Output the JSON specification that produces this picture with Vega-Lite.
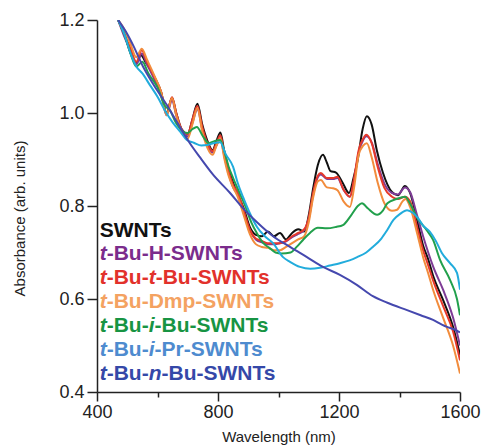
{
  "$schema": "https://vega.github.io/schema/vega-lite/v6.json",
  "width": 363,
  "height": 372,
  "autosize": {"type": "none"},
  "padding": {"left": 97, "top": 20, "right": 27, "bottom": 53},
  "background": "white",
  "config": {"view": {"stroke": null}, "font": "Liberation Sans"},
  "datasets": {
    "spectra": [
      {"s":"SWNTs","w":470,"a":1.2},{"s":"SWNTs","w":490,"a":1.17},{"s":"SWNTs","w":510,"a":1.13},{"s":"SWNTs","w":530,"a":1.107},{"s":"SWNTs","w":545,"a":1.125},{"s":"SWNTs","w":560,"a":1.11},{"s":"SWNTs","w":590,"a":1.077},{"s":"SWNTs","w":612,"a":1.045},{"s":"SWNTs","w":630,"a":1.0},{"s":"SWNTs","w":648,"a":1.033},{"s":"SWNTs","w":662,"a":1.0},{"s":"SWNTs","w":680,"a":0.965},{"s":"SWNTs","w":700,"a":0.955},{"s":"SWNTs","w":715,"a":0.985},{"s":"SWNTs","w":732,"a":1.02},{"s":"SWNTs","w":748,"a":0.975},{"s":"SWNTs","w":765,"a":0.94},{"s":"SWNTs","w":782,"a":0.92},{"s":"SWNTs","w":795,"a":0.94},{"s":"SWNTs","w":808,"a":0.958},{"s":"SWNTs","w":820,"a":0.92},{"s":"SWNTs","w":835,"a":0.88},{"s":"SWNTs","w":850,"a":0.85},{"s":"SWNTs","w":865,"a":0.825},{"s":"SWNTs","w":885,"a":0.795},{"s":"SWNTs","w":905,"a":0.755},{"s":"SWNTs","w":925,"a":0.738},{"s":"SWNTs","w":945,"a":0.735},{"s":"SWNTs","w":965,"a":0.745},{"s":"SWNTs","w":985,"a":0.735},{"s":"SWNTs","w":1005,"a":0.742},{"s":"SWNTs","w":1025,"a":0.728},{"s":"SWNTs","w":1045,"a":0.742},{"s":"SWNTs","w":1065,"a":0.75},{"s":"SWNTs","w":1085,"a":0.745},{"s":"SWNTs","w":1100,"a":0.78},{"s":"SWNTs","w":1115,"a":0.84},{"s":"SWNTs","w":1130,"a":0.888},{"s":"SWNTs","w":1147,"a":0.91},{"s":"SWNTs","w":1160,"a":0.893},{"s":"SWNTs","w":1172,"a":0.875},{"s":"SWNTs","w":1190,"a":0.872},{"s":"SWNTs","w":1212,"a":0.85},{"s":"SWNTs","w":1233,"a":0.828},{"s":"SWNTs","w":1248,"a":0.86},{"s":"SWNTs","w":1262,"a":0.9},{"s":"SWNTs","w":1278,"a":0.965},{"s":"SWNTs","w":1292,"a":0.993},{"s":"SWNTs","w":1308,"a":0.975},{"s":"SWNTs","w":1325,"a":0.92},{"s":"SWNTs","w":1345,"a":0.872},{"s":"SWNTs","w":1375,"a":0.83},{"s":"SWNTs","w":1395,"a":0.823},{"s":"SWNTs","w":1418,"a":0.843},{"s":"SWNTs","w":1435,"a":0.828},{"s":"SWNTs","w":1458,"a":0.77},{"s":"SWNTs","w":1478,"a":0.715},{"s":"SWNTs","w":1495,"a":0.685},{"s":"SWNTs","w":1511,"a":0.65},{"s":"SWNTs","w":1544,"a":0.598},{"s":"SWNTs","w":1577,"a":0.54},{"s":"SWNTs","w":1600,"a":0.48},

      {"s":"t-Bu-H-SWNTs","w":470,"a":1.2},{"s":"t-Bu-H-SWNTs","w":490,"a":1.165},{"s":"t-Bu-H-SWNTs","w":510,"a":1.135},{"s":"t-Bu-H-SWNTs","w":530,"a":1.105},{"s":"t-Bu-H-SWNTs","w":548,"a":1.128},{"s":"t-Bu-H-SWNTs","w":565,"a":1.105},{"s":"t-Bu-H-SWNTs","w":590,"a":1.072},{"s":"t-Bu-H-SWNTs","w":612,"a":1.04},{"s":"t-Bu-H-SWNTs","w":630,"a":0.995},{"s":"t-Bu-H-SWNTs","w":648,"a":1.027},{"s":"t-Bu-H-SWNTs","w":662,"a":0.995},{"s":"t-Bu-H-SWNTs","w":680,"a":0.96},{"s":"t-Bu-H-SWNTs","w":700,"a":0.95},{"s":"t-Bu-H-SWNTs","w":715,"a":0.978},{"s":"t-Bu-H-SWNTs","w":732,"a":1.008},{"s":"t-Bu-H-SWNTs","w":748,"a":0.965},{"s":"t-Bu-H-SWNTs","w":765,"a":0.93},{"s":"t-Bu-H-SWNTs","w":782,"a":0.915},{"s":"t-Bu-H-SWNTs","w":795,"a":0.93},{"s":"t-Bu-H-SWNTs","w":808,"a":0.945},{"s":"t-Bu-H-SWNTs","w":820,"a":0.91},{"s":"t-Bu-H-SWNTs","w":835,"a":0.87},{"s":"t-Bu-H-SWNTs","w":850,"a":0.84},{"s":"t-Bu-H-SWNTs","w":865,"a":0.825},{"s":"t-Bu-H-SWNTs","w":885,"a":0.785},{"s":"t-Bu-H-SWNTs","w":905,"a":0.748},{"s":"t-Bu-H-SWNTs","w":925,"a":0.728},{"s":"t-Bu-H-SWNTs","w":945,"a":0.722},{"s":"t-Bu-H-SWNTs","w":965,"a":0.718},{"s":"t-Bu-H-SWNTs","w":985,"a":0.718},{"s":"t-Bu-H-SWNTs","w":1005,"a":0.72},{"s":"t-Bu-H-SWNTs","w":1025,"a":0.724},{"s":"t-Bu-H-SWNTs","w":1045,"a":0.733},{"s":"t-Bu-H-SWNTs","w":1065,"a":0.74},{"s":"t-Bu-H-SWNTs","w":1085,"a":0.748},{"s":"t-Bu-H-SWNTs","w":1100,"a":0.772},{"s":"t-Bu-H-SWNTs","w":1115,"a":0.825},{"s":"t-Bu-H-SWNTs","w":1130,"a":0.862},{"s":"t-Bu-H-SWNTs","w":1140,"a":0.868},{"s":"t-Bu-H-SWNTs","w":1160,"a":0.858},{"s":"t-Bu-H-SWNTs","w":1180,"a":0.858},{"s":"t-Bu-H-SWNTs","w":1195,"a":0.86},{"s":"t-Bu-H-SWNTs","w":1215,"a":0.835},{"s":"t-Bu-H-SWNTs","w":1236,"a":0.82},{"s":"t-Bu-H-SWNTs","w":1250,"a":0.855},{"s":"t-Bu-H-SWNTs","w":1265,"a":0.915},{"s":"t-Bu-H-SWNTs","w":1280,"a":0.942},{"s":"t-Bu-H-SWNTs","w":1290,"a":0.95},{"s":"t-Bu-H-SWNTs","w":1308,"a":0.937},{"s":"t-Bu-H-SWNTs","w":1328,"a":0.89},{"s":"t-Bu-H-SWNTs","w":1350,"a":0.848},{"s":"t-Bu-H-SWNTs","w":1375,"a":0.828},{"s":"t-Bu-H-SWNTs","w":1395,"a":0.825},{"s":"t-Bu-H-SWNTs","w":1418,"a":0.84},{"s":"t-Bu-H-SWNTs","w":1435,"a":0.83},{"s":"t-Bu-H-SWNTs","w":1458,"a":0.78},{"s":"t-Bu-H-SWNTs","w":1478,"a":0.735},{"s":"t-Bu-H-SWNTs","w":1495,"a":0.7},{"s":"t-Bu-H-SWNTs","w":1511,"a":0.67},{"s":"t-Bu-H-SWNTs","w":1544,"a":0.62},{"s":"t-Bu-H-SWNTs","w":1577,"a":0.56},{"s":"t-Bu-H-SWNTs","w":1600,"a":0.5},

      {"s":"t-Bu-t-Bu-SWNTs","w":470,"a":1.2},{"s":"t-Bu-t-Bu-SWNTs","w":490,"a":1.17},{"s":"t-Bu-t-Bu-SWNTs","w":510,"a":1.14},{"s":"t-Bu-t-Bu-SWNTs","w":530,"a":1.11},{"s":"t-Bu-t-Bu-SWNTs","w":548,"a":1.135},{"s":"t-Bu-t-Bu-SWNTs","w":565,"a":1.11},{"s":"t-Bu-t-Bu-SWNTs","w":590,"a":1.077},{"s":"t-Bu-t-Bu-SWNTs","w":612,"a":1.045},{"s":"t-Bu-t-Bu-SWNTs","w":630,"a":0.998},{"s":"t-Bu-t-Bu-SWNTs","w":648,"a":1.034},{"s":"t-Bu-t-Bu-SWNTs","w":662,"a":1.0},{"s":"t-Bu-t-Bu-SWNTs","w":680,"a":0.965},{"s":"t-Bu-t-Bu-SWNTs","w":700,"a":0.955},{"s":"t-Bu-t-Bu-SWNTs","w":715,"a":0.985},{"s":"t-Bu-t-Bu-SWNTs","w":732,"a":1.015},{"s":"t-Bu-t-Bu-SWNTs","w":748,"a":0.97},{"s":"t-Bu-t-Bu-SWNTs","w":765,"a":0.935},{"s":"t-Bu-t-Bu-SWNTs","w":782,"a":0.918},{"s":"t-Bu-t-Bu-SWNTs","w":795,"a":0.935},{"s":"t-Bu-t-Bu-SWNTs","w":808,"a":0.952},{"s":"t-Bu-t-Bu-SWNTs","w":820,"a":0.915},{"s":"t-Bu-t-Bu-SWNTs","w":835,"a":0.875},{"s":"t-Bu-t-Bu-SWNTs","w":850,"a":0.845},{"s":"t-Bu-t-Bu-SWNTs","w":865,"a":0.83},{"s":"t-Bu-t-Bu-SWNTs","w":885,"a":0.79},{"s":"t-Bu-t-Bu-SWNTs","w":905,"a":0.75},{"s":"t-Bu-t-Bu-SWNTs","w":925,"a":0.73},{"s":"t-Bu-t-Bu-SWNTs","w":945,"a":0.725},{"s":"t-Bu-t-Bu-SWNTs","w":965,"a":0.72},{"s":"t-Bu-t-Bu-SWNTs","w":985,"a":0.72},{"s":"t-Bu-t-Bu-SWNTs","w":1005,"a":0.72},{"s":"t-Bu-t-Bu-SWNTs","w":1025,"a":0.725},{"s":"t-Bu-t-Bu-SWNTs","w":1045,"a":0.735},{"s":"t-Bu-t-Bu-SWNTs","w":1065,"a":0.742},{"s":"t-Bu-t-Bu-SWNTs","w":1085,"a":0.75},{"s":"t-Bu-t-Bu-SWNTs","w":1100,"a":0.775},{"s":"t-Bu-t-Bu-SWNTs","w":1115,"a":0.83},{"s":"t-Bu-t-Bu-SWNTs","w":1130,"a":0.865},{"s":"t-Bu-t-Bu-SWNTs","w":1140,"a":0.871},{"s":"t-Bu-t-Bu-SWNTs","w":1160,"a":0.86},{"s":"t-Bu-t-Bu-SWNTs","w":1180,"a":0.86},{"s":"t-Bu-t-Bu-SWNTs","w":1195,"a":0.863},{"s":"t-Bu-t-Bu-SWNTs","w":1215,"a":0.835},{"s":"t-Bu-t-Bu-SWNTs","w":1236,"a":0.82},{"s":"t-Bu-t-Bu-SWNTs","w":1250,"a":0.86},{"s":"t-Bu-t-Bu-SWNTs","w":1265,"a":0.92},{"s":"t-Bu-t-Bu-SWNTs","w":1280,"a":0.945},{"s":"t-Bu-t-Bu-SWNTs","w":1290,"a":0.953},{"s":"t-Bu-t-Bu-SWNTs","w":1308,"a":0.935},{"s":"t-Bu-t-Bu-SWNTs","w":1328,"a":0.884},{"s":"t-Bu-t-Bu-SWNTs","w":1350,"a":0.839},{"s":"t-Bu-t-Bu-SWNTs","w":1375,"a":0.82},{"s":"t-Bu-t-Bu-SWNTs","w":1395,"a":0.815},{"s":"t-Bu-t-Bu-SWNTs","w":1418,"a":0.82},{"s":"t-Bu-t-Bu-SWNTs","w":1435,"a":0.81},{"s":"t-Bu-t-Bu-SWNTs","w":1458,"a":0.755},{"s":"t-Bu-t-Bu-SWNTs","w":1478,"a":0.705},{"s":"t-Bu-t-Bu-SWNTs","w":1495,"a":0.672},{"s":"t-Bu-t-Bu-SWNTs","w":1511,"a":0.64},{"s":"t-Bu-t-Bu-SWNTs","w":1544,"a":0.585},{"s":"t-Bu-t-Bu-SWNTs","w":1577,"a":0.53},{"s":"t-Bu-t-Bu-SWNTs","w":1600,"a":0.468},

      {"s":"t-Bu-Dmp-SWNTs","w":470,"a":1.2},{"s":"t-Bu-Dmp-SWNTs","w":490,"a":1.18},{"s":"t-Bu-Dmp-SWNTs","w":510,"a":1.15},{"s":"t-Bu-Dmp-SWNTs","w":530,"a":1.12},{"s":"t-Bu-Dmp-SWNTs","w":548,"a":1.138},{"s":"t-Bu-Dmp-SWNTs","w":565,"a":1.115},{"s":"t-Bu-Dmp-SWNTs","w":590,"a":1.08},{"s":"t-Bu-Dmp-SWNTs","w":612,"a":1.045},{"s":"t-Bu-Dmp-SWNTs","w":630,"a":0.995},{"s":"t-Bu-Dmp-SWNTs","w":648,"a":1.032},{"s":"t-Bu-Dmp-SWNTs","w":662,"a":0.995},{"s":"t-Bu-Dmp-SWNTs","w":680,"a":0.96},{"s":"t-Bu-Dmp-SWNTs","w":700,"a":0.945},{"s":"t-Bu-Dmp-SWNTs","w":715,"a":0.975},{"s":"t-Bu-Dmp-SWNTs","w":732,"a":1.01},{"s":"t-Bu-Dmp-SWNTs","w":748,"a":0.96},{"s":"t-Bu-Dmp-SWNTs","w":765,"a":0.925},{"s":"t-Bu-Dmp-SWNTs","w":782,"a":0.91},{"s":"t-Bu-Dmp-SWNTs","w":795,"a":0.93},{"s":"t-Bu-Dmp-SWNTs","w":808,"a":0.945},{"s":"t-Bu-Dmp-SWNTs","w":820,"a":0.905},{"s":"t-Bu-Dmp-SWNTs","w":835,"a":0.865},{"s":"t-Bu-Dmp-SWNTs","w":850,"a":0.84},{"s":"t-Bu-Dmp-SWNTs","w":865,"a":0.82},{"s":"t-Bu-Dmp-SWNTs","w":885,"a":0.78},{"s":"t-Bu-Dmp-SWNTs","w":905,"a":0.74},{"s":"t-Bu-Dmp-SWNTs","w":925,"a":0.718},{"s":"t-Bu-Dmp-SWNTs","w":945,"a":0.712},{"s":"t-Bu-Dmp-SWNTs","w":965,"a":0.71},{"s":"t-Bu-Dmp-SWNTs","w":985,"a":0.705},{"s":"t-Bu-Dmp-SWNTs","w":1005,"a":0.705},{"s":"t-Bu-Dmp-SWNTs","w":1025,"a":0.712},{"s":"t-Bu-Dmp-SWNTs","w":1045,"a":0.72},{"s":"t-Bu-Dmp-SWNTs","w":1065,"a":0.728},{"s":"t-Bu-Dmp-SWNTs","w":1085,"a":0.735},{"s":"t-Bu-Dmp-SWNTs","w":1100,"a":0.765},{"s":"t-Bu-Dmp-SWNTs","w":1115,"a":0.82},{"s":"t-Bu-Dmp-SWNTs","w":1130,"a":0.853},{"s":"t-Bu-Dmp-SWNTs","w":1140,"a":0.856},{"s":"t-Bu-Dmp-SWNTs","w":1160,"a":0.84},{"s":"t-Bu-Dmp-SWNTs","w":1180,"a":0.838},{"s":"t-Bu-Dmp-SWNTs","w":1195,"a":0.834},{"s":"t-Bu-Dmp-SWNTs","w":1215,"a":0.81},{"s":"t-Bu-Dmp-SWNTs","w":1236,"a":0.798},{"s":"t-Bu-Dmp-SWNTs","w":1250,"a":0.84},{"s":"t-Bu-Dmp-SWNTs","w":1265,"a":0.91},{"s":"t-Bu-Dmp-SWNTs","w":1280,"a":0.93},{"s":"t-Bu-Dmp-SWNTs","w":1292,"a":0.935},{"s":"t-Bu-Dmp-SWNTs","w":1308,"a":0.905},{"s":"t-Bu-Dmp-SWNTs","w":1328,"a":0.85},{"s":"t-Bu-Dmp-SWNTs","w":1350,"a":0.806},{"s":"t-Bu-Dmp-SWNTs","w":1375,"a":0.79},{"s":"t-Bu-Dmp-SWNTs","w":1392,"a":0.792},{"s":"t-Bu-Dmp-SWNTs","w":1410,"a":0.81},{"s":"t-Bu-Dmp-SWNTs","w":1420,"a":0.815},{"s":"t-Bu-Dmp-SWNTs","w":1435,"a":0.798},{"s":"t-Bu-Dmp-SWNTs","w":1458,"a":0.742},{"s":"t-Bu-Dmp-SWNTs","w":1478,"a":0.69},{"s":"t-Bu-Dmp-SWNTs","w":1495,"a":0.655},{"s":"t-Bu-Dmp-SWNTs","w":1511,"a":0.62},{"s":"t-Bu-Dmp-SWNTs","w":1544,"a":0.56},{"s":"t-Bu-Dmp-SWNTs","w":1577,"a":0.5},{"s":"t-Bu-Dmp-SWNTs","w":1600,"a":0.44},

      {"s":"t-Bu-i-Bu-SWNTs","w":470,"a":1.2},{"s":"t-Bu-i-Bu-SWNTs","w":490,"a":1.17},{"s":"t-Bu-i-Bu-SWNTs","w":510,"a":1.13},{"s":"t-Bu-i-Bu-SWNTs","w":530,"a":1.1},{"s":"t-Bu-i-Bu-SWNTs","w":550,"a":1.11},{"s":"t-Bu-i-Bu-SWNTs","w":570,"a":1.085},{"s":"t-Bu-i-Bu-SWNTs","w":600,"a":1.055},{"s":"t-Bu-i-Bu-SWNTs","w":625,"a":1.015},{"s":"t-Bu-i-Bu-SWNTs","w":641,"a":1.006},{"s":"t-Bu-i-Bu-SWNTs","w":660,"a":0.98},{"s":"t-Bu-i-Bu-SWNTs","w":685,"a":0.96},{"s":"t-Bu-i-Bu-SWNTs","w":700,"a":0.957},{"s":"t-Bu-i-Bu-SWNTs","w":715,"a":0.965},{"s":"t-Bu-i-Bu-SWNTs","w":730,"a":0.97},{"s":"t-Bu-i-Bu-SWNTs","w":750,"a":0.95},{"s":"t-Bu-i-Bu-SWNTs","w":770,"a":0.935},{"s":"t-Bu-i-Bu-SWNTs","w":790,"a":0.94},{"s":"t-Bu-i-Bu-SWNTs","w":807,"a":0.942},{"s":"t-Bu-i-Bu-SWNTs","w":820,"a":0.92},{"s":"t-Bu-i-Bu-SWNTs","w":835,"a":0.885},{"s":"t-Bu-i-Bu-SWNTs","w":850,"a":0.86},{"s":"t-Bu-i-Bu-SWNTs","w":870,"a":0.83},{"s":"t-Bu-i-Bu-SWNTs","w":890,"a":0.8},{"s":"t-Bu-i-Bu-SWNTs","w":910,"a":0.765},{"s":"t-Bu-i-Bu-SWNTs","w":930,"a":0.74},{"s":"t-Bu-i-Bu-SWNTs","w":950,"a":0.72},{"s":"t-Bu-i-Bu-SWNTs","w":970,"a":0.71},{"s":"t-Bu-i-Bu-SWNTs","w":990,"a":0.7},{"s":"t-Bu-i-Bu-SWNTs","w":1010,"a":0.698},{"s":"t-Bu-i-Bu-SWNTs","w":1040,"a":0.7},{"s":"t-Bu-i-Bu-SWNTs","w":1060,"a":0.712},{"s":"t-Bu-i-Bu-SWNTs","w":1081,"a":0.727},{"s":"t-Bu-i-Bu-SWNTs","w":1104,"a":0.742},{"s":"t-Bu-i-Bu-SWNTs","w":1130,"a":0.753},{"s":"t-Bu-i-Bu-SWNTs","w":1160,"a":0.752},{"s":"t-Bu-i-Bu-SWNTs","w":1190,"a":0.755},{"s":"t-Bu-i-Bu-SWNTs","w":1213,"a":0.759},{"s":"t-Bu-i-Bu-SWNTs","w":1240,"a":0.78},{"s":"t-Bu-i-Bu-SWNTs","w":1262,"a":0.8},{"s":"t-Bu-i-Bu-SWNTs","w":1276,"a":0.806},{"s":"t-Bu-i-Bu-SWNTs","w":1295,"a":0.795},{"s":"t-Bu-i-Bu-SWNTs","w":1326,"a":0.781},{"s":"t-Bu-i-Bu-SWNTs","w":1345,"a":0.79},{"s":"t-Bu-i-Bu-SWNTs","w":1360,"a":0.806},{"s":"t-Bu-i-Bu-SWNTs","w":1390,"a":0.815},{"s":"t-Bu-i-Bu-SWNTs","w":1418,"a":0.82},{"s":"t-Bu-i-Bu-SWNTs","w":1435,"a":0.805},{"s":"t-Bu-i-Bu-SWNTs","w":1458,"a":0.775},{"s":"t-Bu-i-Bu-SWNTs","w":1490,"a":0.748},{"s":"t-Bu-i-Bu-SWNTs","w":1511,"a":0.727},{"s":"t-Bu-i-Bu-SWNTs","w":1534,"a":0.684},{"s":"t-Bu-i-Bu-SWNTs","w":1567,"a":0.641},{"s":"t-Bu-i-Bu-SWNTs","w":1590,"a":0.6},{"s":"t-Bu-i-Bu-SWNTs","w":1600,"a":0.565},

      {"s":"t-Bu-i-Pr-SWNTs","w":470,"a":1.2},{"s":"t-Bu-i-Pr-SWNTs","w":490,"a":1.17},{"s":"t-Bu-i-Pr-SWNTs","w":510,"a":1.13},{"s":"t-Bu-i-Pr-SWNTs","w":530,"a":1.1},{"s":"t-Bu-i-Pr-SWNTs","w":550,"a":1.085},{"s":"t-Bu-i-Pr-SWNTs","w":575,"a":1.06},{"s":"t-Bu-i-Pr-SWNTs","w":600,"a":1.035},{"s":"t-Bu-i-Pr-SWNTs","w":625,"a":1.005},{"s":"t-Bu-i-Pr-SWNTs","w":650,"a":0.98},{"s":"t-Bu-i-Pr-SWNTs","w":675,"a":0.96},{"s":"t-Bu-i-Pr-SWNTs","w":697,"a":0.942},{"s":"t-Bu-i-Pr-SWNTs","w":720,"a":0.936},{"s":"t-Bu-i-Pr-SWNTs","w":745,"a":0.93},{"s":"t-Bu-i-Pr-SWNTs","w":764,"a":0.931},{"s":"t-Bu-i-Pr-SWNTs","w":785,"a":0.935},{"s":"t-Bu-i-Pr-SWNTs","w":807,"a":0.937},{"s":"t-Bu-i-Pr-SWNTs","w":825,"a":0.912},{"s":"t-Bu-i-Pr-SWNTs","w":850,"a":0.884},{"s":"t-Bu-i-Pr-SWNTs","w":865,"a":0.85},{"s":"t-Bu-i-Pr-SWNTs","w":883,"a":0.819},{"s":"t-Bu-i-Pr-SWNTs","w":905,"a":0.785},{"s":"t-Bu-i-Pr-SWNTs","w":929,"a":0.755},{"s":"t-Bu-i-Pr-SWNTs","w":955,"a":0.735},{"s":"t-Bu-i-Pr-SWNTs","w":982,"a":0.72},{"s":"t-Bu-i-Pr-SWNTs","w":1015,"a":0.69},{"s":"t-Bu-i-Pr-SWNTs","w":1038,"a":0.68},{"s":"t-Bu-i-Pr-SWNTs","w":1071,"a":0.669},{"s":"t-Bu-i-Pr-SWNTs","w":1105,"a":0.665},{"s":"t-Bu-i-Pr-SWNTs","w":1137,"a":0.667},{"s":"t-Bu-i-Pr-SWNTs","w":1170,"a":0.672},{"s":"t-Bu-i-Pr-SWNTs","w":1203,"a":0.677},{"s":"t-Bu-i-Pr-SWNTs","w":1235,"a":0.683},{"s":"t-Bu-i-Pr-SWNTs","w":1260,"a":0.69},{"s":"t-Bu-i-Pr-SWNTs","w":1290,"a":0.7},{"s":"t-Bu-i-Pr-SWNTs","w":1312,"a":0.712},{"s":"t-Bu-i-Pr-SWNTs","w":1340,"a":0.73},{"s":"t-Bu-i-Pr-SWNTs","w":1359,"a":0.748},{"s":"t-Bu-i-Pr-SWNTs","w":1380,"a":0.77},{"s":"t-Bu-i-Pr-SWNTs","w":1402,"a":0.783},{"s":"t-Bu-i-Pr-SWNTs","w":1425,"a":0.791},{"s":"t-Bu-i-Pr-SWNTs","w":1445,"a":0.785},{"s":"t-Bu-i-Pr-SWNTs","w":1460,"a":0.775},{"s":"t-Bu-i-Pr-SWNTs","w":1478,"a":0.758},{"s":"t-Bu-i-Pr-SWNTs","w":1500,"a":0.745},{"s":"t-Bu-i-Pr-SWNTs","w":1520,"a":0.725},{"s":"t-Bu-i-Pr-SWNTs","w":1540,"a":0.699},{"s":"t-Bu-i-Pr-SWNTs","w":1567,"a":0.677},{"s":"t-Bu-i-Pr-SWNTs","w":1590,"a":0.656},{"s":"t-Bu-i-Pr-SWNTs","w":1600,"a":0.62},

      {"s":"t-Bu-n-Bu-SWNTs","w":470,"a":1.2},{"s":"t-Bu-n-Bu-SWNTs","w":500,"a":1.17},{"s":"t-Bu-n-Bu-SWNTs","w":520,"a":1.145},{"s":"t-Bu-n-Bu-SWNTs","w":552,"a":1.1},{"s":"t-Bu-n-Bu-SWNTs","w":585,"a":1.063},{"s":"t-Bu-n-Bu-SWNTs","w":631,"a":1.017},{"s":"t-Bu-n-Bu-SWNTs","w":664,"a":0.981},{"s":"t-Bu-n-Bu-SWNTs","w":707,"a":0.935},{"s":"t-Bu-n-Bu-SWNTs","w":740,"a":0.905},{"s":"t-Bu-n-Bu-SWNTs","w":783,"a":0.868},{"s":"t-Bu-n-Bu-SWNTs","w":840,"a":0.828},{"s":"t-Bu-n-Bu-SWNTs","w":883,"a":0.795},{"s":"t-Bu-n-Bu-SWNTs","w":929,"a":0.765},{"s":"t-Bu-n-Bu-SWNTs","w":982,"a":0.735},{"s":"t-Bu-n-Bu-SWNTs","w":1038,"a":0.712},{"s":"t-Bu-n-Bu-SWNTs","w":1094,"a":0.69},{"s":"t-Bu-n-Bu-SWNTs","w":1147,"a":0.669},{"s":"t-Bu-n-Bu-SWNTs","w":1203,"a":0.652},{"s":"t-Bu-n-Bu-SWNTs","w":1260,"a":0.63},{"s":"t-Bu-n-Bu-SWNTs","w":1312,"a":0.606},{"s":"t-Bu-n-Bu-SWNTs","w":1360,"a":0.592},{"s":"t-Bu-n-Bu-SWNTs","w":1425,"a":0.576},{"s":"t-Bu-n-Bu-SWNTs","w":1470,"a":0.565},{"s":"t-Bu-n-Bu-SWNTs","w":1511,"a":0.555},{"s":"t-Bu-n-Bu-SWNTs","w":1540,"a":0.545},{"s":"t-Bu-n-Bu-SWNTs","w":1557,"a":0.54},{"s":"t-Bu-n-Bu-SWNTs","w":1580,"a":0.535},{"s":"t-Bu-n-Bu-SWNTs","w":1600,"a":0.528}
    ],
    "legend": [
      {"s":"SWNTs","t":"SWNTs","it":false,"w":409,"a":0.733},
      {"s":"t-Bu-H-SWNTs","t":"t","it":true,"w":409,"a":0.684},
      {"s":"t-Bu-H-SWNTs","t":"-Bu-H-SWNTs","it":false,"w":432.1,"a":0.684},
      {"s":"t-Bu-t-Bu-SWNTs","t":"t","it":true,"w":409,"a":0.632},
      {"s":"t-Bu-t-Bu-SWNTs","t":"-Bu-","it":false,"w":432.1,"a":0.632},
      {"s":"t-Bu-t-Bu-SWNTs","t":"t","it":true,"w":571,"a":0.632},
      {"s":"t-Bu-t-Bu-SWNTs","t":"-Bu-SWNTs","it":false,"w":594.1,"a":0.632},
      {"s":"t-Bu-Dmp-SWNTs","t":"t","it":true,"w":409,"a":0.581},
      {"s":"t-Bu-Dmp-SWNTs","t":"-Bu-Dmp-SWNTs","it":false,"w":432.1,"a":0.581},
      {"s":"t-Bu-i-Bu-SWNTs","t":"t","it":true,"w":409,"a":0.529},
      {"s":"t-Bu-i-Bu-SWNTs","t":"-Bu-","it":false,"w":432.1,"a":0.529},
      {"s":"t-Bu-i-Bu-SWNTs","t":"i","it":true,"w":571,"a":0.529},
      {"s":"t-Bu-i-Bu-SWNTs","t":"-Bu-SWNTs","it":false,"w":590.3,"a":0.529},
      {"s":"t-Bu-i-Pr-SWNTs","t":"t","it":true,"w":409,"a":0.477},
      {"s":"t-Bu-i-Pr-SWNTs","t":"-Bu-","it":false,"w":432.1,"a":0.477},
      {"s":"t-Bu-i-Pr-SWNTs","t":"i","it":true,"w":571,"a":0.477},
      {"s":"t-Bu-i-Pr-SWNTs","t":"-Pr-SWNTs","it":false,"w":590.3,"a":0.477},
      {"s":"t-Bu-n-Bu-SWNTs","t":"t","it":true,"w":409,"a":0.426},
      {"s":"t-Bu-n-Bu-SWNTs","t":"-Bu-","it":false,"w":432.1,"a":0.426},
      {"s":"t-Bu-n-Bu-SWNTs","t":"n","it":true,"w":571,"a":0.426},
      {"s":"t-Bu-n-Bu-SWNTs","t":"-Bu-SWNTs","it":false,"w":613.4,"a":0.426}
    ]
  },
  "layer": [
    {
      "data": {"name": "spectra"},
      "mark": {"type": "line", "strokeWidth": 2, "clip": true, "interpolate": "monotone"},
      "encoding": {
        "x": {
          "field": "w", "type": "quantitative",
          "scale": {"domain": [400, 1600], "nice": false, "zero": false},
          "axis": {
            "title": "Wavelength (nm)",
            "values": [400, 600, 800, 1000, 1200, 1400, 1600],
            "labelExpr": "datum.value % 400 === 0 ? datum.label : ''",
            "format": "d",
            "grid": false,
            "tickSize": {"condition": {"test": "datum.value % 400 === 0", "value": 9}, "value": 5},
            "tickColor": "#222", "tickWidth": 1.5,
            "domainColor": "#222", "domainWidth": 1.5,
            "labelFontSize": 18, "labelColor": "#222", "labelPadding": 2,
            "labelFlush": false, "labelOverlap": false,
            "titleFontSize": 15, "titleFontWeight": "normal", "titleColor": "#222", "titlePadding": 8
          }
        },
        "y": {
          "field": "a", "type": "quantitative",
          "scale": {"domain": [0.4, 1.2], "nice": false, "zero": false},
          "axis": {
            "title": "Absorbance (arb. units)",
            "values": [0.4, 0.6, 0.8, 1.0, 1.2],
            "format": ".1f",
            "grid": false,
            "tickSize": 10, "tickColor": "#222", "tickWidth": 1.5,
            "domainColor": "#222", "domainWidth": 1.5,
            "labelFontSize": 18, "labelColor": "#222", "labelPadding": 3,
            "labelFlush": false, "labelOverlap": false,
            "titleFontSize": 15, "titleFontWeight": "normal", "titleColor": "#222", "titlePadding": 31, "titleY": 198
          }
        },
        "color": {
          "field": "s", "type": "nominal",
          "scale": {
            "domain": ["SWNTs", "t-Bu-H-SWNTs", "t-Bu-t-Bu-SWNTs", "t-Bu-Dmp-SWNTs", "t-Bu-i-Bu-SWNTs", "t-Bu-i-Pr-SWNTs", "t-Bu-n-Bu-SWNTs"],
            "range": ["#111111", "#7E3C96", "#E6392B", "#F28C3C", "#22A04C", "#22ACDC", "#4548AE"]
          },
          "legend": null
        }
      }
    },
    {
      "data": {"name": "legend"},
      "transform": [{"filter": "!datum.it"}],
      "mark": {"type": "text", "align": "left", "baseline": "alphabetic", "fontSize": 21, "fontWeight": "bold", "font": "Liberation Sans"},
      "encoding": {
        "x": {"field": "w", "type": "quantitative"},
        "y": {"field": "a", "type": "quantitative"},
        "text": {"field": "t"},
        "color": {
          "field": "s", "type": "nominal",
          "scale": {
            "domain": ["SWNTs", "t-Bu-H-SWNTs", "t-Bu-t-Bu-SWNTs", "t-Bu-Dmp-SWNTs", "t-Bu-i-Bu-SWNTs", "t-Bu-i-Pr-SWNTs", "t-Bu-n-Bu-SWNTs"],
            "range": ["#111111", "#7B2C8C", "#E2312B", "#F4A261", "#179443", "#4E8BCF", "#3548A8"]
          },
          "legend": null
        }
      }
    },
    {
      "data": {"name": "legend"},
      "transform": [{"filter": "datum.it"}],
      "mark": {"type": "text", "align": "left", "baseline": "alphabetic", "fontSize": 21, "fontWeight": "bold", "fontStyle": "italic", "font": "Liberation Sans"},
      "encoding": {
        "x": {"field": "w", "type": "quantitative"},
        "y": {"field": "a", "type": "quantitative"},
        "text": {"field": "t"},
        "color": {
          "field": "s", "type": "nominal",
          "scale": {
            "domain": ["SWNTs", "t-Bu-H-SWNTs", "t-Bu-t-Bu-SWNTs", "t-Bu-Dmp-SWNTs", "t-Bu-i-Bu-SWNTs", "t-Bu-i-Pr-SWNTs", "t-Bu-n-Bu-SWNTs"],
            "range": ["#111111", "#7B2C8C", "#E2312B", "#F4A261", "#179443", "#4E8BCF", "#3548A8"]
          },
          "legend": null
        }
      }
    }
  ],
  "resolve": {"scale": {"color": "independent"}}
}
